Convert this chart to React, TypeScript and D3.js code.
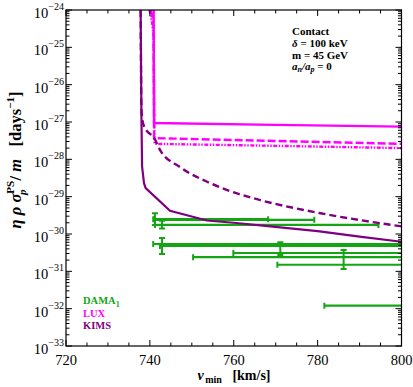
import React, { useEffect, useRef } from "react"
import * as d3 from "d3"

// vmin [km/s], eta*rho*sigma/m [days^-1]
const kimsSolid: [number, number][] = [
  [737.8, 1e-24], [738.0, 1e-27], [738.15, 6.3e-29], [738.6, 2.3e-29],
  [739.0, 1.7e-29], [744.8, 4.2e-30], [753.6, 2.3e-30], [760, 2.0e-30],
  [768.7, 1.6e-30], [780, 1.2e-30], [790, 8.5e-31], [800, 6.2e-31],
]
const kimsDashed: [number, number][] = [
  [737.8, 1e-24], [738.0, 2.0e-27], [738.5, 8.3e-28], [741.3, 3.3e-28],
  [742.4, 1.8e-28], [747.2, 6.2e-29], [754.4, 2.3e-29], [759.2, 1.4e-29],
  [766.3, 8.1e-30], [780.7, 3.6e-30], [800, 1.6e-30],
]
const luxSolid: [number, number][] = [
  [740.9, 1e-24], [741.0, 9.4e-28], [770, 8.4e-28], [800, 7.5e-28],
]
const luxDashed: [number, number][] = [
  [740.2, 1e-24], [740.7, 6e-25], [740.9, 3e-25], [741.0, 3.7e-28],
  [770, 3.1e-28], [800, 2.6e-28],
]
const luxDotted: [number, number][] = [
  [739.9, 1e-24], [740.5, 5e-25], [740.9, 2e-25], [741.1, 2.6e-28],
  [770, 2.3e-28], [800, 2.0e-28],
]

// DAMA_1 bins
const damaY = [2.5e-30, 2.4e-30, 1.75e-30, 5.4e-31, 4.8e-31, 3.1e-31, 2.4e-31, 1.5e-31, 1.2e-32]
const damaVLo = [740.8, 741.2, 741.2, 740.8, 742.4, 759.9, 750.3, 770.4, 781.6]
const damaVHi = [768.2, 779.2, 794.5, 801, 801, 801, 801, 801, 801]
const damaPt = [741.2, null, 742.9, 742.9, 771.1, null, 786.2, null, null]
const damaErrLo = [1.75e-30, null, 1.4e-30, 2.9e-31, 2.75e-31, null, 1.15e-31, null, null]
const damaErrHi = [3.6e-30, null, 2.25e-30, 7.8e-31, 6.0e-31, null, 3.7e-31, null, null]

const xTickLabels = [720, 740, 760, 780, 800]
const xMinorTicks = [725, 730, 735, 745, 750, 755, 765, 770, 775, 785, 790, 795]
const yExponents = [-24, -25, -26, -27, -28, -29, -30, -31, -32, -33]

const GREEN = "#14a514"
const MAGENTA = "#ff00ff"
const PURPLE = "#7f007f"
const SERIF = "'Liberation Serif', 'DejaVu Serif', serif"

const App = () => {
  const ref = useRef<SVGSVGElement>(null)

  useEffect(() => {
    document.body.style.margin = "0"
    const margin = { top: 10, right: 11.5, bottom: 41, left: 66 }
    const svgWidth = 413
    const svgHeight = 387
    const width = svgWidth - margin.left - margin.right
    const height = svgHeight - margin.top - margin.bottom

    const svg = d3.select(ref.current)
    svg.selectAll("*").remove()

    const x = d3.scaleLinear().domain([720, 800]).range([0, width])
    const y = d3.scaleLog().domain([1e-33, 1e-24]).range([height, 0])

    svg
      .append("defs")
      .append("clipPath")
      .attr("id", "plot-clip")
      .append("rect")
      .attr("width", width)
      .attr("height", height)

    const g = svg.append("g").attr("transform", `translate(${margin.left},${margin.top})`)
    const plot = g.append("g").attr("clip-path", "url(#plot-clip)")

    // DAMA bars
    damaY.forEach((val, i) => {
      const yy = y(val)
      const x0 = x(damaVLo[i])
      const x1 = x(damaVHi[i])
      plot.append("line").attr("x1", x0).attr("x2", x1).attr("y1", yy).attr("y2", yy)
        .attr("stroke", GREEN).attr("stroke-width", 2.2)
      plot.append("line").attr("x1", x0).attr("x2", x0).attr("y1", yy - 3).attr("y2", yy + 3)
        .attr("stroke", GREEN).attr("stroke-width", 2)
      if (damaVHi[i] < 800) {
        plot.append("line").attr("x1", x1).attr("x2", x1).attr("y1", yy - 3).attr("y2", yy + 3)
          .attr("stroke", GREEN).attr("stroke-width", 2)
      }
      const p = damaPt[i]
      const lo = damaErrLo[i]
      const hi = damaErrHi[i]
      if (p !== null && lo !== null && hi !== null) {
        const px = x(p)
        plot.append("line").attr("x1", px).attr("x2", px).attr("y1", y(lo)).attr("y2", y(hi))
          .attr("stroke", GREEN).attr("stroke-width", 2)
        ;[lo, hi].forEach((e) => {
          plot.append("line").attr("x1", px - 3).attr("x2", px + 3).attr("y1", y(e)).attr("y2", y(e))
            .attr("stroke", GREEN).attr("stroke-width", 2)
        })
      }
    })

    const line = d3.line<[number, number]>().x((d) => x(d[0])).y((d) => y(d[1]))
    const smooth = d3.line<[number, number]>().x((d) => x(d[0])).y((d) => y(d[1])).curve(d3.curveMonotoneX)

    const curves: { data: [number, number][]; color: string; w: number; dash: string | null; gen: any }[] = [
      { data: luxDotted, color: MAGENTA, w: 2.4, dash: "4,1.5,1.5,1.5,1.5,1.5", gen: line },
      { data: luxDashed, color: MAGENTA, w: 2.4, dash: "8,3", gen: line },
      { data: luxSolid, color: MAGENTA, w: 2.4, dash: null, gen: line },
      { data: kimsDashed, color: PURPLE, w: 2.4, dash: "7,4", gen: smooth },
      { data: kimsSolid, color: PURPLE, w: 2.2, dash: null, gen: line },
    ]
    curves.forEach((c) => {
      plot.append("path").attr("d", c.gen(c.data)).attr("fill", "none")
        .attr("stroke", c.color).attr("stroke-width", c.w)
        .attr("stroke-dasharray", c.dash)
    })

    // frame and ticks
    g.append("rect").attr("width", width).attr("height", height)
      .attr("fill", "none").attr("stroke", "#000").attr("stroke-width", 1.2)

    const tickG = g.append("g").attr("stroke", "#000").attr("stroke-width", 1)
    xTickLabels.forEach((v) => {
      tickG.append("line").attr("x1", x(v)).attr("x2", x(v)).attr("y1", height).attr("y2", height - 6)
      tickG.append("line").attr("x1", x(v)).attr("x2", x(v)).attr("y1", 0).attr("y2", 6)
    })
    xMinorTicks.forEach((v) => {
      tickG.append("line").attr("x1", x(v)).attr("x2", x(v)).attr("y1", height).attr("y2", height - 3.5)
      tickG.append("line").attr("x1", x(v)).attr("x2", x(v)).attr("y1", 0).attr("y2", 3.5)
    })
    yExponents.forEach((e) => {
      const yy = y(Math.pow(10, e))
      tickG.append("line").attr("x1", 0).attr("x2", 6).attr("y1", yy).attr("y2", yy)
      tickG.append("line").attr("x1", width).attr("x2", width - 6).attr("y1", yy).attr("y2", yy)
      if (e === -24) return
      for (let m = 2; m <= 9; m++) {
        const ym = y(m * Math.pow(10, e))
        tickG.append("line").attr("x1", 0).attr("x2", 3.5).attr("y1", ym).attr("y2", ym)
        tickG.append("line").attr("x1", width).attr("x2", width - 3.5).attr("y1", ym).attr("y2", ym)
      }
    })

    // tick labels
    xTickLabels.forEach((v) => {
      g.append("text").attr("x", x(v)).attr("y", height + 19).attr("text-anchor", "middle")
        .attr("font-family", SERIF).attr("font-size", 14.5).text(v)
    })
    yExponents.forEach((e) => {
      const t = g.append("text").attr("x", -2).attr("y", y(Math.pow(10, e)) + 8)
        .attr("text-anchor", "end").attr("font-family", SERIF).attr("font-size", 14.5)
      t.append("tspan").text("10")
      t.append("tspan").attr("dy", -8).attr("font-size", 10).text(`\u2212${-e}`)
    })

    // axis titles
    const xt = svg.append("text").attr("x", 234).attr("y", 380).attr("text-anchor", "middle")
      .attr("font-family", SERIF).attr("font-size", 14).attr("font-weight", "bold")
    xt.append("tspan").attr("font-style", "italic").text("v")
    xt.append("tspan").attr("dx", 1.5).attr("dy", 3).attr("font-size", 10).text("min")
    xt.append("tspan").attr("dy", -3).text("\u2002 [km/s]")

    const yt = svg.append("text").attr("transform", "translate(21,160) rotate(-90)")
      .attr("text-anchor", "middle").attr("font-family", SERIF).attr("font-size", 16.5)
      .attr("font-weight", "bold")
    yt.append("tspan").attr("font-style", "italic").text("\u03b7 \u03c1 \u03c3")
    yt.append("tspan").attr("dy", -7).attr("font-size", 11).text("PS")
    yt.append("tspan").attr("dx", -14).attr("dy", 12).attr("font-size", 11).attr("font-style", "italic").text("p")
    yt.append("tspan").attr("dx", 9).attr("dy", -5).text("/ ")
    yt.append("tspan").attr("font-style", "italic").text("m")
    yt.append("tspan").text("\u2002 [days")
    yt.append("tspan").attr("dy", -7).attr("font-size", 11).text("\u22121")
    yt.append("tspan").attr("dy", 7).text("]")

    // annotation
    const notes = svg.append("g").attr("font-family", SERIF).attr("font-size", 11).attr("font-weight", "bold")
    notes.append("text").attr("x", 292).attr("y", 35).text("Contact")
    const d1 = notes.append("text").attr("x", 292).attr("y", 47)
    d1.append("tspan").attr("font-style", "italic").text("\u03b4")
    d1.append("tspan").text(" = 100 keV")
    notes.append("text").attr("x", 292).attr("y", 59).text("m = 45 GeV")
    const d3t = notes.append("text").attr("x", 292).attr("y", 70).attr("font-style", "italic")
    d3t.append("tspan").text("a")
    d3t.append("tspan").attr("dy", 2).attr("font-size", 8).text("n")
    d3t.append("tspan").attr("dy", -2).text("/a")
    d3t.append("tspan").attr("dy", 2).attr("font-size", 8).text("p")
    d3t.append("tspan").attr("dy", -2).attr("font-style", "normal").text(" = 0")

    // legend
    const leg = svg.append("g").attr("font-family", SERIF).attr("font-size", 10.5).attr("font-weight", "bold")
    const l1 = leg.append("text").attr("x", 83).attr("y", 304).attr("fill", GREEN)
    l1.append("tspan").text("DAMA")
    l1.append("tspan").attr("dy", 3).attr("font-size", 8).text("1")
    leg.append("text").attr("x", 83).attr("y", 317).attr("fill", MAGENTA).text("LUX")
    leg.append("text").attr("x", 83).attr("y", 329).attr("fill", PURPLE).text("KIMS")
  })

  return <svg ref={ref} width={413} height={387} style={{ display: "block" }} />
}

export default App
